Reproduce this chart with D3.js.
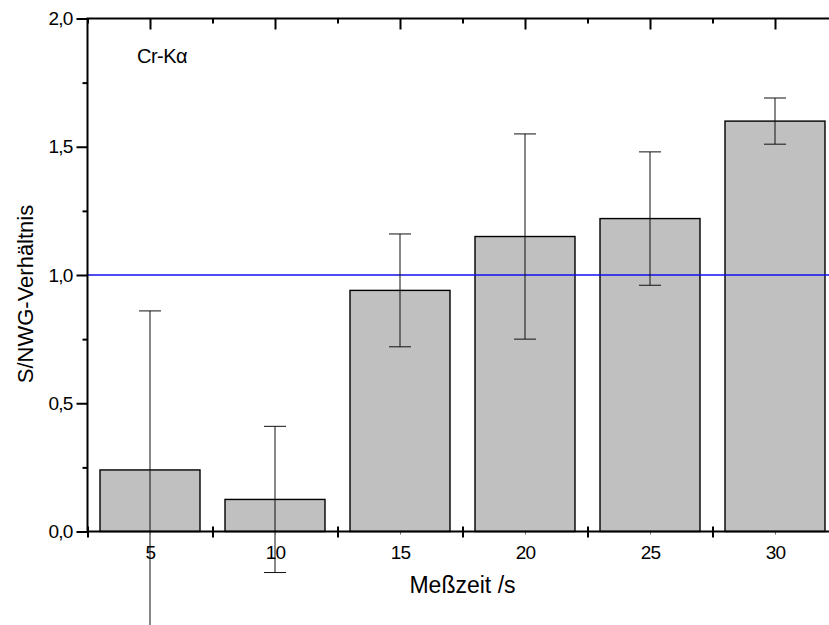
<!DOCTYPE html>
<html>
<head>
<meta charset="utf-8">
<script src="https://cdn.jsdelivr.net/npm/d3@7"></script>
<style>
body { margin: 0; background: #fff; }
svg text { font-family: "Liberation Sans", Arial, sans-serif; fill: #000; }
</style>
</head>
<body>
<div id="chart"></div>
<script>
// data
const times = [5, 10, 15, 20, 25, 30];
const ratios = [0.24, 0.125, 0.94, 1.15, 1.22, 1.60];
const errors = [0.62, 0.285, 0.22, 0.40, 0.26, 0.09];
const yTicks = [0, 0.5, 1.0, 1.5, 2.0];
const yMinor = [0.25, 0.75, 1.25, 1.75];
const xBounds = [2.5, 7.5, 12.5, 17.5, 22.5, 27.5, 32.5];
const refLevel = 1.0;
const label = "Cr-K\u03b1";

const margin = ({top: 18.5, right: 0, bottom: 93.5, left: 87.5});
const width = 750, height = 513;

const svg = d3.select("#chart")
  .append("svg")
  .attr("width", 829)
  .attr("height", 625)
  .append("g")
  .attr("transform", `translate(${margin.left}, ${margin.top})`);

const xScale = d3.scaleLinear().domain([2.5, 32.5]).range([0, width]);
const yScale = d3.scaleLinear().domain([0, 2]).range([height, 0]);

const fmt = d => d.toFixed(1).replace(".", ",");
const data = times.map((t, i) => ({t, v: ratios[i], e: errors[i]}));

// bars
svg.selectAll(".bar")
  .data(data)
  .enter().append("rect")
  .attr("class", "bar")
  .attr("x", d => xScale(d.t - 2))
  .attr("width", d => xScale(d.t + 2) - xScale(d.t - 2))
  .attr("y", d => yScale(d.v))
  .attr("height", d => yScale(0) - yScale(d.v))
  .attr("fill", "#c0c0c0")
  .attr("stroke", "#000")
  .attr("stroke-width", 1.4);

// reference line
svg.append("line")
  .attr("x1", 0).attr("x2", width)
  .attr("y1", yScale(refLevel)).attr("y2", yScale(refLevel))
  .attr("stroke", "#1010ee")
  .attr("stroke-width", 1.6);

// error bars
const eb = svg.selectAll(".err")
  .data(data)
  .enter().append("g")
  .attr("class", "err")
  .attr("stroke", "#111")
  .attr("stroke-width", 1);
eb.append("line")
  .attr("x1", d => xScale(d.t)).attr("x2", d => xScale(d.t))
  .attr("y1", d => yScale(d.v + d.e)).attr("y2", d => yScale(d.v - d.e));
eb.append("line")
  .attr("x1", d => xScale(d.t) - 11).attr("x2", d => xScale(d.t) + 11)
  .attr("y1", d => yScale(d.v + d.e)).attr("y2", d => yScale(d.v + d.e));
eb.append("line")
  .attr("x1", d => xScale(d.t) - 11).attr("x2", d => xScale(d.t) + 11)
  .attr("y1", d => yScale(d.v - d.e)).attr("y2", d => yScale(d.v - d.e));

// axes
function styleAxis(g) {
  g.select(".domain").remove();
  g.selectAll("line").attr("stroke", "#000").attr("stroke-width", 2);
  g.selectAll("text").attr("font-size", 19).attr("letter-spacing", "-0.8px")
    .attr("font-family", null);
}

svg.append("g")
  .call(d3.axisLeft(yScale).tickValues(yTicks).tickSize(11).tickPadding(4).tickFormat(fmt))
  .call(styleAxis);
svg.append("g")
  .call(d3.axisLeft(yScale).tickValues(yMinor).tickSize(5).tickFormat(""))
  .call(styleAxis);
svg.append("g")
  .attr("transform", `translate(${width}, 0)`)
  .call(d3.axisLeft(yScale).tickValues(yTicks).tickSize(-11).tickFormat(""))
  .call(styleAxis);
svg.append("g")
  .attr("transform", `translate(${width}, 0)`)
  .call(d3.axisLeft(yScale).tickValues(yMinor).tickSize(-5).tickFormat(""))
  .call(styleAxis);

svg.append("g")
  .call(d3.axisTop(xScale).tickValues(times).tickSize(-11).tickFormat(""))
  .call(styleAxis);
svg.append("g")
  .call(d3.axisTop(xScale).tickValues(xBounds).tickSize(-5).tickFormat(""))
  .call(styleAxis);

const xAxis = svg.append("g")
  .attr("transform", `translate(0, ${height})`)
  .call(d3.axisBottom(xScale).tickValues(times).tickSize(3).tickFormat(d3.format("d")))
  .call(styleAxis);
xAxis.selectAll("text").attr("y", 27.5).attr("dy", null);
xAxis.selectAll("line").attr("stroke-width", 1).attr("stroke", "#666");

svg.append("g")
  .attr("transform", `translate(0, ${height})`)
  .call(d3.axisBottom(xScale).tickValues(xBounds).tickSize(6).tickFormat(""))
  .call(styleAxis)
  .selectAll("line").attr("y1", -5);

// frame
svg.append("rect")
  .attr("width", width).attr("height", height)
  .attr("fill", "none")
  .attr("stroke", "#000")
  .attr("stroke-width", 2);

// titles
svg.append("text")
  .attr("x", width / 2)
  .attr("y", height + 61.5)
  .attr("text-anchor", "middle")
  .attr("font-size", 23)
  .text("Me\u00dfzeit /s");

svg.append("text")
  .attr("transform", `translate(${33 - margin.left}, ${294 - margin.top}) rotate(-90)`)
  .attr("text-anchor", "middle")
  .attr("font-size", 22)
  .text("S/NWG-Verh\u00e4ltnis");

svg.append("text")
  .attr("x", 137 - margin.left)
  .attr("y", 63 - margin.top)
  .attr("font-size", 20)
  .attr("letter-spacing", "-0.5px")
  .text(label);
</script>
</body>
</html>
